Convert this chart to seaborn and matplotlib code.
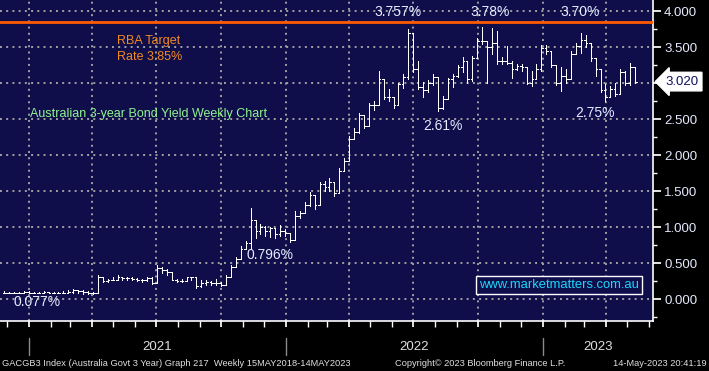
import numpy as np
import pandas as pd
import matplotlib
matplotlib.use('Agg')
import matplotlib.pyplot as plt
import matplotlib.dates as mdates
import matplotlib.transforms as mtransforms
from matplotlib.ticker import MultipleLocator, FuncFormatter
import seaborn as sns

# weekly bars, GACGB3 index (Australia govt 3 year), Nov 2020 - May 2023
weeks = pd.date_range(end='2023-05-12', periods=129, freq='W-FRI')

closes = [
    0.09, 0.09, 0.08, 0.09, 0.10, 0.09, 0.09, 0.09, 0.10, 0.09,
    0.09, 0.09, 0.09, 0.10, 0.12, 0.11, 0.10, 0.09, 0.08, 0.30,
    0.25, 0.27, 0.27, 0.31, 0.29, 0.29, 0.28, 0.27, 0.26, 0.29,
    0.22, 0.43, 0.40, 0.37, 0.27, 0.25, 0.25, 0.30, 0.30, 0.18,
    0.22, 0.24, 0.22, 0.22, 0.20, 0.30, 0.45, 0.55, 0.70, 0.78,
    1.10, 0.95, 1.00, 0.95, 0.98, 0.90, 0.95, 0.92, 0.82, 1.15,
    1.20, 1.30, 1.45, 1.30, 1.60, 1.55, 1.62, 1.47, 1.78, 1.92,
    2.22, 2.32, 2.55, 2.40, 2.70, 2.70, 3.05, 2.80, 2.80, 2.70,
    2.98, 3.08, 3.70, 3.20, 2.95, 2.90, 3.00, 3.08, 2.65, 2.78,
    3.05, 3.10, 3.22, 3.30, 3.05, 3.35, 3.58, 3.58, 3.50, 3.55,
    3.30, 3.30, 3.28, 3.20, 3.24, 3.22, 3.00, 3.05, 3.20, 3.48,
    3.45, 3.25, 3.00, 3.10, 3.05, 3.40, 3.52, 3.60, 3.55, 3.35,
    3.20, 2.90, 2.80, 2.92, 2.85, 3.15, 3.00, 3.22, 3.02,
]
highs = [
    0.11, 0.10, 0.10, 0.10, 0.11, 0.11, 0.10, 0.10, 0.11, 0.10,
    0.10, 0.10, 0.11, 0.12, 0.14, 0.13, 0.12, 0.11, 0.10, 0.33,
    0.27, 0.28, 0.30, 0.33, 0.31, 0.30, 0.30, 0.29, 0.28, 0.31,
    0.30, 0.47, 0.44, 0.42, 0.37, 0.28, 0.28, 0.31, 0.31, 0.26,
    0.26, 0.27, 0.25, 0.28, 0.24, 0.33, 0.47, 0.58, 0.74, 0.81,
    1.26, 1.10, 1.04, 1.02, 1.00, 0.99, 1.03, 0.97, 0.92, 1.22,
    1.22, 1.35, 1.49, 1.36, 1.63, 1.64, 1.68, 1.55, 1.82, 1.96,
    2.27, 2.38, 2.58, 2.56, 2.72, 2.75, 3.17, 3.05, 2.92, 2.80,
    3.00, 3.12, 3.757, 3.70, 3.30, 3.02, 3.04, 3.13, 3.05, 2.82,
    3.07, 3.12, 3.25, 3.36, 3.24, 3.38, 3.62, 3.78, 3.58, 3.76,
    3.72, 3.36, 3.52, 3.30, 3.26, 3.26, 3.17, 3.17, 3.26, 3.53,
    3.53, 3.40, 3.24, 3.22, 3.20, 3.44, 3.56, 3.69, 3.66, 3.53,
    3.24, 3.10, 2.98, 2.96, 3.00, 3.19, 3.17, 3.28, 3.13,
]
lows = [
    0.08, 0.08, 0.077, 0.08, 0.08, 0.08, 0.08, 0.08, 0.08, 0.08,
    0.08, 0.08, 0.08, 0.09, 0.08, 0.09, 0.07, 0.07, 0.07, 0.08,
    0.23, 0.24, 0.26, 0.27, 0.27, 0.27, 0.26, 0.25, 0.24, 0.25,
    0.21, 0.22, 0.36, 0.33, 0.26, 0.23, 0.23, 0.25, 0.27, 0.15,
    0.17, 0.20, 0.19, 0.20, 0.18, 0.20, 0.30, 0.44, 0.55, 0.69,
    0.70, 0.85, 0.90, 0.88, 0.86, 0.85, 0.87, 0.88, 0.796, 0.82,
    1.12, 1.20, 1.29, 1.25, 1.30, 1.50, 1.50, 1.43, 1.47, 1.78,
    1.95, 2.22, 2.30, 2.38, 2.40, 2.62, 2.70, 2.78, 2.75, 2.65,
    2.70, 2.93, 3.05, 3.15, 2.92, 2.81, 2.88, 2.97, 2.61, 2.64,
    2.78, 2.95, 3.08, 3.15, 3.00, 3.03, 3.35, 3.54, 3.00, 3.40,
    3.26, 3.26, 3.26, 3.07, 3.18, 3.17, 2.98, 2.96, 3.05, 3.17,
    3.40, 3.22, 2.97, 2.89, 3.00, 3.05, 3.40, 3.42, 3.50, 3.30,
    3.10, 2.87, 2.75, 2.80, 2.82, 2.85, 2.97, 2.97, 3.00,
]

rba_target = 3.85
last_value = 3.02
year_labels = ['2021', '2022', '2023']

# peak / trough callouts: (text, x pixel, y pixel)
callouts = [
    ('3.757%', 398, 12), ('3.78%', 490, 12), ('3.70%', 580, 12),
    ('2.61%', 443, 126), ('2.75%', 595, 113),
    ('0.796%', 270, 255), ('0.077%', 37, 302),
]

NAVY = '#100d4b'
W, H = 709, 371
PLOT_R, PLOT_B = 653, 321

sns.set_theme(style='dark')
plt.rcParams['font.family'] = ['Liberation Sans', 'DejaVu Sans']

df = pd.DataFrame({'week': weeks, 'high': highs, 'low': lows, 'close': closes})
df['open'] = df['close'].shift(1).fillna(df['close'].iloc[0])
df['high'] = df[['high', 'open', 'close']].max(axis=1)
df['low'] = df[['low', 'open', 'close']].min(axis=1)
x = mdates.date2num(df['week'].dt.to_pydatetime())
tick = 2.4

fig = plt.figure(figsize=(W / 100, H / 100), dpi=100, facecolor='black')
ax = fig.add_axes([0, 1 - PLOT_B / H, PLOT_R / W, PLOT_B / H])
ax.set_facecolor(NAVY)

bar_kw = dict(color='white', lw=0.72, zorder=4, antialiased=False)
ax.vlines(x, df['low'], df['high'], **bar_kw)
ax.hlines(df['open'], x - tick, x, **bar_kw)
ax.hlines(df['close'], x, x + tick, **bar_kw)

ax.axhline(rba_target, color='#ff5a00', lw=2, zorder=3)

# axis ranges
x0 = mdates.date2num(pd.Timestamp('2020-11-21').to_pydatetime())
ax.set_xlim(x0, x0 + PLOT_R / 0.704)
ax.set_ylim(-0.305, 4.153)

ax.xaxis.set_major_locator(mdates.MonthLocator(bymonth=[1, 4, 7, 10]))
ax.xaxis.set_minor_locator(mdates.MonthLocator())
ax.yaxis.set_major_locator(MultipleLocator(0.5))
ax.yaxis.set_minor_locator(MultipleLocator(0.25))
# the 3.000 label sits under the last-value flag
ax.yaxis.set_major_formatter(FuncFormatter(lambda v, p: '' if abs(v - 3.0) < 1e-6 else f'{v:.3f}'))
ax.yaxis.tick_right()

ax.grid(True, which='major', color='#a0a0a0', ls=(0, (1, 2.2)), lw=1.4)
ax.set_axisbelow(True)

ax.tick_params(axis='x', which='both', bottom=True, length=4, color='white',
               labelbottom=False, direction='out')
ax.tick_params(axis='y', which='major', right=True, left=False, length=6,
               color='white', labelcolor='#e6eaff', labelsize=9.5, pad=2)
ax.tick_params(axis='y', which='minor', right=True, left=False, length=3,
               color='white')
for side in ['top', 'left']:
    ax.spines[side].set_visible(False)
for side in ['right', 'bottom']:
    ax.spines[side].set_color('white')
    ax.spines[side].set_linewidth(1.2)

# last value flag on right axis
ax.annotate(f'{last_value:.3f}', xy=(1.0, last_value),
            xycoords=('axes fraction', 'data'), xytext=(9, 0),
            textcoords='offset points', va='center', ha='left',
            fontsize=9.5, color='#10105a', zorder=10, annotation_clip=False,
            bbox=dict(boxstyle='larrow,pad=0.25', fc='white', ec='white'))

def axpos(px, py):
    return px / PLOT_R, (PLOT_B - py) / PLOT_B

for txt, px, py in callouts:
    ax.text(*axpos(px, py), txt, transform=ax.transAxes, ha='center',
            va='center', fontsize=10, color='#e4ecff', zorder=6)

ax.text(*axpos(117, 35), 'RBA Target\nRate 3.85%', transform=ax.transAxes,
        ha='left', va='top', fontsize=9, color='#f08a24', linespacing=1.5)
ax.text(*axpos(30, 114), 'Australian 3-year Bond Yield Weekly Chart',
        transform=ax.transAxes, ha='left', va='center', fontsize=9,
        color='#8ff58f')
ax.text(*axpos(559, 285), 'www.marketmatters.com.au', transform=ax.transAxes,
        ha='center', va='center', fontsize=9.4, color='#18d8f8', zorder=6,
        bbox=dict(boxstyle='square,pad=0.25', fc=NAVY, ec='white', lw=1))

# year separators and labels under the axis
trans = mtransforms.blended_transform_factory(ax.transData, ax.transAxes)
year_starts = [pd.Timestamp(f'{y}-01-01') for y in year_labels]
bounds = [mdates.date2num(d.to_pydatetime()) for d in year_starts] + [ax.get_xlim()[1]]
y_top, y_bot = (PLOT_B - 338) / PLOT_B, (PLOT_B - 355) / PLOT_B
for i, lab in enumerate(year_labels):
    ax.plot([bounds[i], bounds[i]], [y_top, y_bot], color='#8a8a8a', lw=1,
            transform=trans, clip_on=False)
    ax.text((bounds[i] + bounds[i + 1]) / 2, (PLOT_B - 347) / PLOT_B, lab,
            transform=trans, ha='center', va='center', fontsize=9.5,
            color='#e0e0e0')

foot = dict(fontsize=6.7, color='#e0e0e0', va='center')
fy = 1 - 363 / H
fig.text(2 / W, fy, 'GACGB3 Index (Australia Govt 3 Year) Graph 217  Weekly 15MAY2018-14MAY2023',
         ha='left', **foot)
fig.text(395 / W, fy, 'Copyright\u00a9 2023 Bloomberg Finance L.P.', ha='left', **foot)
fig.text(707 / W, fy, '14-May-2023 20:41:19', ha='right', **foot)

fig.savefig('out.png', dpi=100, facecolor='black')
